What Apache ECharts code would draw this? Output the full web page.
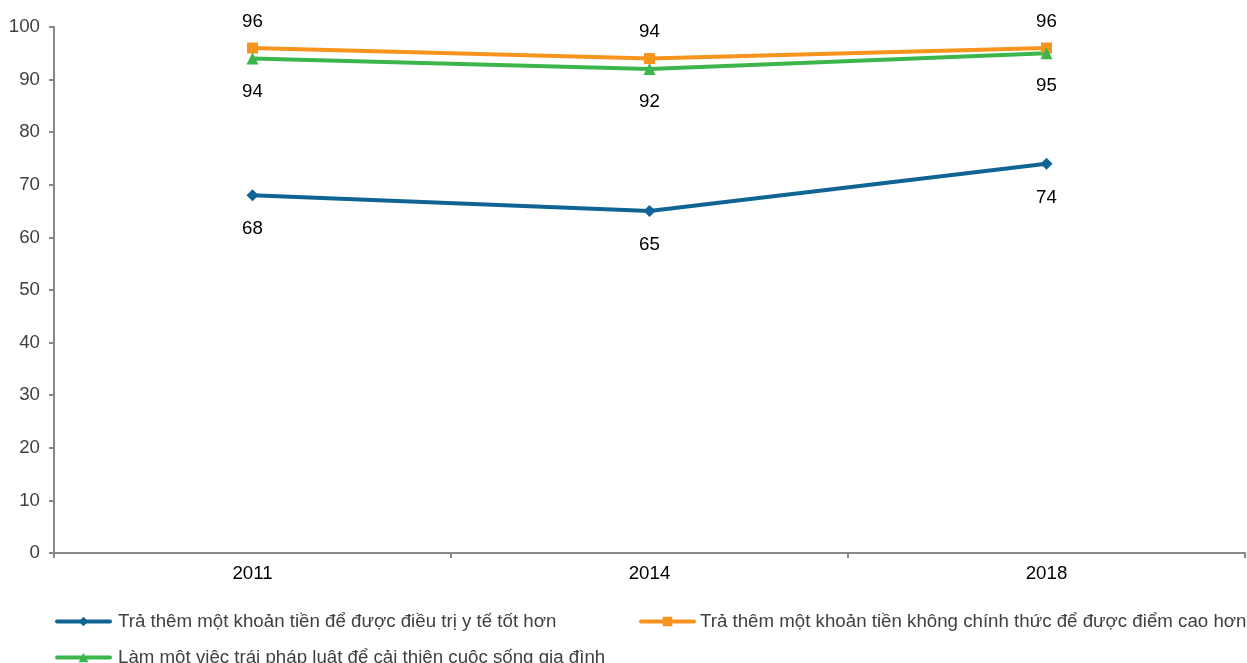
<!DOCTYPE html>
<html>
<head>
<meta charset="utf-8">
<script src="https://cdn.jsdelivr.net/npm/echarts@6/dist/echarts.min.js"></script>
<style>
  html, body { margin: 0; padding: 0; background: #fff; }
  #chart { width: 1247px; height: 663px; }
</style>
</head>
<body>
<div id="chart"></div>
<script>
// Data
const years = ['2011', '2014', '2018'];
const yTicks = [0, 10, 20, 30, 40, 50, 60, 70, 80, 90, 100];
const nameHealth = 'Trả thêm một khoản tiền để được điều trị y tế tốt hơn';
const nameGrades = 'Trả thêm một khoản tiền không chính thức để được điểm cao hơn';
const nameIllegal = 'Làm một việc trái pháp luật để cải thiên cuôc sống gia đình';
const health = [68, 65, 74];
const grades = [96, 94, 96];
const illegal = [94, 92, 95];

const FONT = '"Liberation Sans", Arial, sans-serif';
const FS = 18.7;

function lineSeries(name, data, color, symbol, size, labelPos, labelDist) {
    return {
        name: name,
        type: 'line',
        data: data,
        symbol: symbol,
        symbolSize: size,
        showAllSymbol: true,
        lineStyle: { color: color, width: 4 },
        itemStyle: { color: color },
        label: {
            show: true,
            position: labelPos,
            distance: labelDist,
            color: '#000',
            fontSize: FS,
            fontFamily: FONT
        },
        emphasis: { disabled: true },
        animation: false
    };
}

// one legend per item so each can sit where the reference puts it
function legendAt(name, left, top, gap) {
    return {
        data: [name],
        left: left,
        top: top,
        itemWidth: 53,
        itemHeight: 12,
        lineStyle: { width: 4, cap: 'round' },
        textStyle: {
            color: '#404040', fontSize: FS, fontFamily: FONT,
            padding: [0, 0, 0, gap]
        },
        selectedMode: false
    };
}

const chart = echarts.init(document.getElementById('chart'));
chart.setOption({
    backgroundColor: '#fff',
    animation: false,
    grid: { left: 54, right: 2, top: 27, bottom: 110, containLabel: false },
    legend: [
        legendAt(nameHealth, 50, 607, 3),
        legendAt(nameGrades, 634, 607, 1),
        legendAt(nameIllegal, 50, 643, 3)
    ],
    xAxis: {
        type: 'category',
        data: years,
        boundaryGap: true,
        axisLine: { lineStyle: { color: '#888', width: 2 } },
        axisTick: { show: true, length: 5, lineStyle: { color: '#888', width: 2 } },
        axisLabel: { color: '#000', fontSize: FS, fontFamily: FONT, margin: 11 },
        splitLine: { show: false }
    },
    yAxis: {
        type: 'value',
        min: yTicks[0],
        max: yTicks[yTicks.length - 1],
        interval: 10,
        axisLine: { show: true, lineStyle: { color: '#888', width: 2 } },
        axisTick: { show: true, length: 5, lineStyle: { color: '#888', width: 2 } },
        axisLabel: { color: '#404040', fontSize: FS, fontFamily: FONT, margin: 14 },
        splitLine: { show: false }
    },
    series: [
        lineSeries(nameHealth, health, '#0f6494', 'diamond', 12, 'bottom', 18.5),
        lineSeries(nameGrades, grades, '#f7941d', 'rect', 11, 'top', 11.5),
        lineSeries(nameIllegal, illegal, '#3cb64a', 'triangle', 12, 'bottom', 17.5)
    ]
});
</script>
</body>
</html>
